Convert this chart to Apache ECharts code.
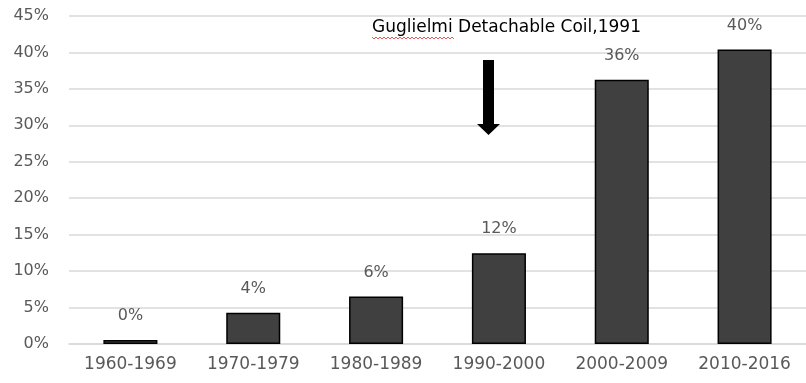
<!DOCTYPE html>
<html>
<head>
<meta charset="utf-8">
<script src="https://cdn.jsdelivr.net/npm/echarts@6/dist/echarts.min.js"></script>
<style>
  html, body { margin: 0; padding: 0; background: #fff; }
  #chart { width: 806px; height: 383px; }
</style>
</head>
<body>
<div id="chart"></div>
<script>
// Share of cases per decade (percent)
const decades = ['1960-1969', '1970-1979', '1980-1989', '1990-2000', '2000-2009', '2010-2016'];
const shares = [0.55, 4.3, 6.5, 12.45, 36.25, 40.4];
const yTicks = { min: 0, max: 45, interval: 5 };

const FONT = 'DejaVu Sans';
const chart = echarts.init(document.getElementById('chart'));

// Wavy spell-check style underline below the first word of the note
function squiggle(x0, x1, y) {
  const pts = [];
  let up = true;
  for (let x = x0; x <= x1; x += 2) {
    pts.push([x, up ? y : y + 2]);
    up = !up;
  }
  return pts;
}

chart.setOption({
  animation: false,
  grid: { left: 69, right: 0, top: 16, bottom: 39 },
  xAxis: {
    type: 'category',
    data: decades,
    axisLine: { show: true, lineStyle: { color: '#d9d9d9', width: 1.5 } },
    axisTick: { show: false },
    axisLabel: { color: '#595959', fontFamily: FONT, fontSize: 17, margin: 12 }
  },
  yAxis: {
    type: 'value',
    min: yTicks.min,
    max: yTicks.max,
    interval: yTicks.interval,
    axisLine: { show: false },
    axisTick: { show: false },
    splitLine: { lineStyle: { color: '#d9d9d9', width: 1.5 } },
    axisLabel: {
      color: '#595959', fontFamily: FONT, fontSize: 16, margin: 20,
      formatter: v => v + '%'
    }
  },
  series: [{
    type: 'bar',
    data: shares,
    barWidth: '44%',
    itemStyle: { color: '#404040', borderColor: '#000', borderWidth: 1.5 },
    label: {
      show: true,
      position: 'top',
      distance: 16,
      color: '#595959',
      fontFamily: FONT,
      fontSize: 16,
      formatter: p => Math.floor(p.value) + '%'
    }
  }],
  graphic: [
    {
      type: 'text',
      left: 372, top: 19, z: 100,
      style: { text: 'Guglielmi Detachable Coil,1991', fill: '#000', font: '17px "DejaVu Sans"' }
    },
    {
      type: 'polyline', z: 100,
      shape: { points: squiggle(372, 455, 37) },
      style: { stroke: '#e03030', lineWidth: 0.8, fill: null }
    },
    {
      type: 'polygon', z: 100,
      shape: { points: [[483, 60], [494, 60], [494, 124], [500, 124], [488.5, 135], [477, 124], [483, 124]] },
      style: { fill: '#000' }
    }
  ]
});
</script>
</body>
</html>
